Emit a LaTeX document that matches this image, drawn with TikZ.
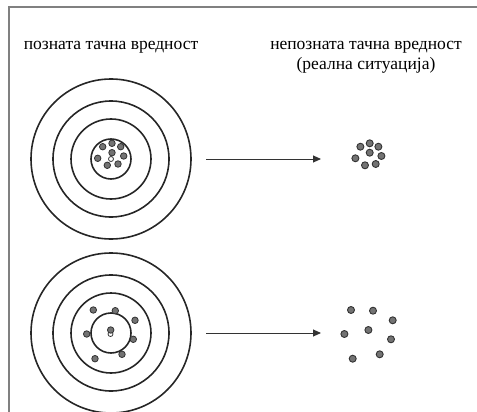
\documentclass[tikz,border=0pt]{standalone}
\usepackage{fontspec}
\setmainfont{Liberation Serif}
\usetikzlibrary{arrows.meta}
\begin{document}
\begin{tikzpicture}[x=1pt,y=-1pt,
  ring/.style={draw=black!85,line width=1.6pt},
  shot/.style={circle,draw=black!80,fill=black!55,line width=0.8pt,inner sep=0pt,minimum size=6.5pt},
  rshot/.style={circle,draw=black!80,fill=black!55,line width=0.9pt,inner sep=0pt,minimum size=7pt},
  bull/.style={circle,draw=black!80,fill=white,line width=0.8pt,inner sep=0pt,minimum size=5pt},
  lab/.style={font=\fontsize{17.5}{20}\selectfont,align=center,inner sep=0pt},
  arr/.style={draw=black!80,line width=0.9pt,-{Triangle[length=8pt,width=7pt]}},
  frame/.style={draw=black!50,line width=2pt}]
\useasboundingbox (0,0) rectangle (477,412);
\draw[frame] (9,412) -- (9,7.5) -- (477,7.5);
% labels
\node[lab,anchor=base] (l1) at (111,50) {позната тачна вредност};
\node[lab,anchor=base] (l2) at (366,50) {непозната тачна вредност};
\node[lab,anchor=base] (l3) at (366,70) {(реална ситуација)};
% top target
\foreach \r in {80,58,40,20} \draw[ring] (111,159) circle (\r);
\node[bull] (b1) at (111,159) {};
\foreach \x/\y [count=\i] in {102.7/146.7,112/143.3,120.7/146.7,97.7/158.3,112/152.7,123.7/156,107.3/165.3,118/164}
  \node[shot] (t\i) at (\x,\y) {};
% bottom target
\foreach \r in {80,58,40,20} \draw[ring] (111,333) circle (\r);
\node[bull] (b2) at (110.5,334) {};
\foreach \x/\y [count=\i] in {93.3/310,115.3/310.7,135/320.3,86.7/334,110.7/330,133.3/339.3,95/358.7,122/354.3}
  \node[shot] (s\i) at (\x,\y) {};
% right clusters
\foreach \x/\y [count=\i] in {102.7/146.7,112/143.3,120.7/146.7,97.7/158.3,112/152.7,123.7/156,107.3/165.3,118/164}
  \node[rshot] (rt\i) at (\x+257.7,\y) {};
\foreach \x/\y [count=\i] in {93.3/310,115.3/310.7,135/320.3,86.7/334,110.7/330,133.3/339.3,95/358.7,122/354.3}
  \node[rshot] (rs\i) at (\x+257.7,\y) {};
% arrows
\coordinate (a1) at (206,159);
\coordinate (e1) at (321,159);
\coordinate (a2) at (206,333);
\coordinate (e2) at (321,333);
\draw[arr] (a1) -- (e1);
\draw[arr] (a2) -- (e2);
\end{tikzpicture}
\end{document}
